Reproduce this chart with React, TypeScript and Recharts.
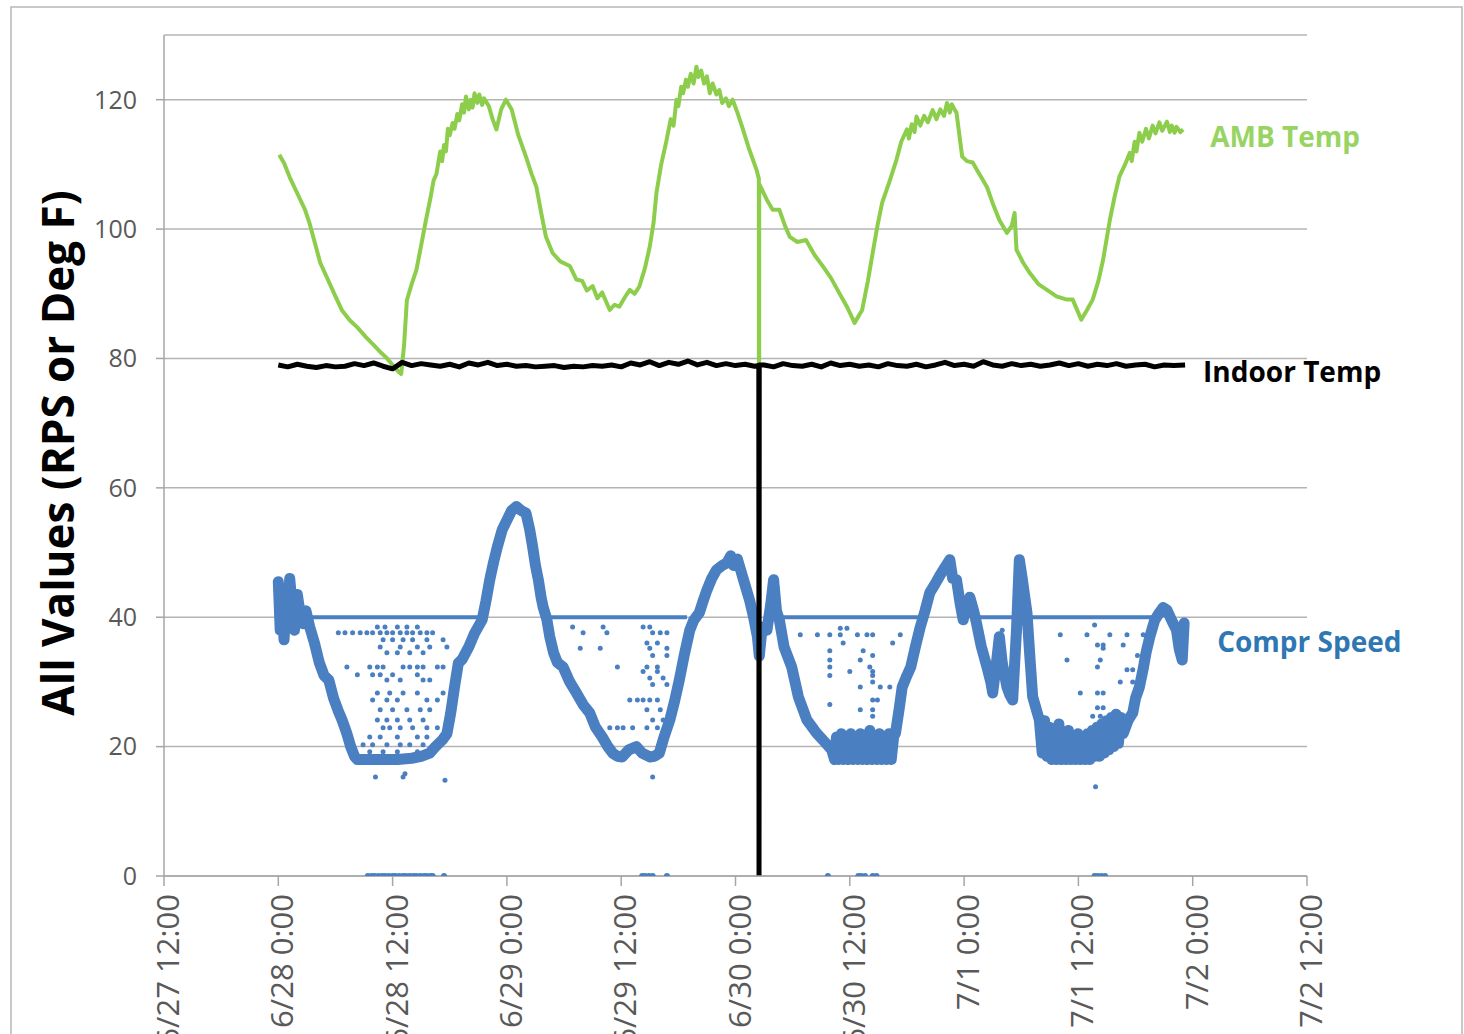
import React from 'react';
import { ComposedChart, Line, Scatter, XAxis, YAxis, CartesianGrid, LabelList } from 'recharts';

// hours since 6/27 12:00
const X_TICKS = [0, 12, 24, 36, 48, 60, 72, 84, 96, 108, 120];
const X_LABELS = ['6/27 12:00', '6/28 0:00', '6/28 12:00', '6/29 0:00', '6/29 12:00', '6/30 0:00', '6/30 12:00', '7/1 0:00', '7/1 12:00', '7/2 0:00', '7/2 12:00'];
const Y_TICKS = [0, 20, 40, 60, 80, 100, 120];

const AMB_TEMP: [number, number][] = [
  [12.1, 111.5], [12.6, 110.2], [13.2, 108.0], [14.0, 105.5], [14.8, 103.0], [15.3, 100.8], [16.0, 97.0], [16.4, 94.8],
  [17.2, 92.2], [18.0, 89.6], [18.7, 87.4], [19.5, 85.9], [20.3, 84.8], [21.2, 83.3], [22.0, 82.1], [22.7, 81.0],
  [23.3, 80.2], [24.0, 79.0], [24.6, 78.0], [24.9, 77.6], [25.2, 82.0], [25.5, 89.0], [26.0, 91.5], [26.5, 93.7],
  [27.0, 97.5], [27.5, 101.4], [28.0, 105.0], [28.3, 107.5], [28.6, 108.5], [29.0, 112.0], [29.2, 110.5], [29.4, 113.0],
  [29.6, 112.0], [29.8, 115.5], [30.0, 114.5], [30.3, 116.4], [30.5, 115.5], [30.8, 117.8], [31.0, 116.8], [31.3, 119.3],
  [31.5, 118.0], [31.7, 120.5], [32.0, 118.5], [32.2, 120.0], [32.4, 118.8], [32.6, 121.0], [32.9, 119.5], [33.1, 120.8],
  [33.4, 119.2], [33.6, 120.2], [34.1, 119.0], [34.5, 117.0], [34.9, 115.4], [35.4, 118.5], [35.9, 120.0], [36.5, 118.5],
  [37.2, 114.5], [38.0, 111.2], [38.6, 108.5], [39.1, 106.5], [39.6, 102.5], [40.1, 98.8], [40.8, 96.3], [41.6, 95.0],
  [42.6, 94.3], [43.3, 92.2], [43.9, 92.0], [44.4, 90.5], [45.0, 91.2], [45.5, 89.3], [46.0, 90.2], [46.8, 87.5],
  [47.3, 88.3], [47.8, 88.0], [48.4, 89.5], [48.9, 90.6], [49.4, 90.0], [49.9, 91.1], [50.5, 94.0], [51.0, 97.3],
  [51.4, 101.0], [51.7, 105.6], [52.2, 110.0], [52.7, 113.3], [53.2, 117.0], [53.5, 116.0], [53.8, 120.0], [54.0, 119.0],
  [54.3, 122.0], [54.5, 121.0], [54.8, 123.1], [55.0, 122.0], [55.3, 124.0], [55.6, 122.5], [55.9, 125.1], [56.1, 123.5],
  [56.4, 124.5], [56.7, 122.5], [57.0, 123.6], [57.3, 121.0], [57.6, 122.5], [58.0, 120.8], [58.3, 121.5], [58.6, 119.5],
  [59.0, 120.2], [59.3, 119.0], [59.7, 120.0], [60.2, 118.0], [60.7, 115.8], [61.4, 112.5], [62.2, 109.2], [62.45, 107.8],
  [62.47, 0], [62.49, 107.0], [63.3, 104.5], [63.9, 103.0], [64.6, 103.0], [65.2, 100.5], [65.7, 98.8], [66.5, 98.0],
  [67.4, 98.3], [68.3, 96.0], [69.2, 94.2], [70.0, 92.5], [70.9, 90.1], [71.7, 88.0], [72.5, 85.5], [73.3, 87.5],
  [73.9, 92.0], [74.4, 96.3], [74.9, 100.5], [75.4, 104.1], [76.2, 107.5], [76.9, 110.7], [77.4, 113.5], [78.0, 115.4],
  [78.2, 114.0], [78.5, 116.2], [78.8, 115.0], [79.0, 117.4], [79.4, 116.0], [79.8, 117.5], [80.2, 116.5], [80.7, 118.4],
  [81.1, 117.0], [81.5, 118.5], [81.9, 117.5], [82.2, 119.5], [82.5, 118.0], [82.7, 119.3], [83.0, 118.5], [83.2, 118.0],
  [83.8, 111.2], [84.3, 110.5], [84.9, 110.3], [85.6, 108.5], [86.4, 106.5], [87.0, 104.0], [87.7, 101.4], [88.5, 99.4],
  [89.0, 100.5], [89.3, 102.5], [89.5, 96.8], [90.2, 94.8], [90.9, 93.2], [91.8, 91.5], [92.7, 90.6], [93.7, 89.6],
  [94.8, 89.1], [95.4, 89.1], [96.3, 86.0], [96.9, 87.5], [97.5, 89.1], [98.1, 92.0], [98.6, 95.3], [99.3, 101.4],
  [99.8, 105.0], [100.3, 108.1], [100.9, 110.0], [101.4, 111.8], [101.6, 110.5], [101.9, 113.5], [102.1, 112.0], [102.4, 114.9],
  [102.7, 113.5], [103.1, 115.5], [103.4, 114.0], [103.8, 116.0], [104.1, 114.8], [104.5, 116.5], [104.8, 115.2], [105.3, 116.6],
  [105.6, 115.0], [105.8, 116.0], [106.1, 114.9], [106.3, 115.8], [106.7, 115.0], [107.0, 115.4],
];

const INDOOR_TEMP: [number, number][] = [
  [12, 79.0], [13, 78.7], [14, 79.1], [15, 78.8], [16, 78.6], [17, 78.9], [18, 78.7], [19, 78.8], [20, 79.2], [21, 78.9],
  [22, 79.3], [23, 78.8], [24, 78.4], [25, 79.4], [26, 78.9], [27, 79.2], [28, 79.0], [29, 78.8], [30, 79.1], [31, 78.7],
  [32, 79.3], [33, 79.0], [34, 79.4], [35, 78.9], [36, 79.1], [37, 78.8], [38, 78.9], [39, 78.7], [40, 78.8], [41, 78.9],
  [42, 78.6], [43, 78.8], [44, 78.7], [45, 78.9], [46, 78.8], [47, 79.0], [48, 78.7], [49, 79.3], [50, 79.0], [51, 79.5],
  [52, 78.9], [53, 79.4], [54, 79.1], [55, 79.6], [56, 79.0], [57, 79.4], [58, 78.9], [59, 79.2], [60, 78.9], [61, 79.1],
  [62, 78.8], [62.45, 78.9], [62.47, 0], [62.49, 79.0], [63, 79.0], [64, 78.7], [65, 79.2], [66, 78.9], [67, 78.8], [68, 79.1],
  [69, 78.7], [70, 79.3], [71, 78.9], [72, 79.1], [73, 78.8], [74, 79.0], [75, 78.7], [76, 79.2], [77, 78.9], [78, 78.8],
  [79, 79.1], [80, 78.7], [81, 79.0], [82, 79.4], [83, 78.9], [84, 79.1], [85, 78.8], [86, 79.5], [87, 79.0], [88, 78.8],
  [89, 79.2], [90, 78.9], [91, 79.1], [92, 78.8], [93, 79.0], [94, 79.3], [95, 78.9], [96, 79.2], [97, 78.8], [98, 79.1],
  [99, 78.9], [100, 79.2], [101, 78.8], [102, 79.0], [103, 79.1], [104, 78.7], [105, 79.0], [106, 78.9], [107.2, 79.0],
];

// main (dense) compressor speed trace
const COMPR_SPEED: [number, number][] = [
  [12.0, 45.5], [12.2, 38.0], [12.4, 44.5], [12.6, 36.5], [12.8, 42.0], [13.0, 39.5], [13.2, 46.0], [13.5, 41.0],
  [13.7, 38.0], [14.0, 43.5], [14.3, 40.5], [14.6, 39.0], [14.9, 41.0], [15.3, 38.5], [15.8, 36.0], [16.3, 33.0],
  [16.8, 31.0], [17.3, 30.3], [17.8, 27.5], [18.3, 25.5], [18.7, 24.1], [19.2, 22.0], [19.6, 20.0], [20.0, 18.5],
  [20.3, 18.0], [21.5, 18.0], [23.0, 18.0], [24.5, 18.0], [26.0, 18.2], [27.0, 18.5], [27.9, 19.0], [28.5, 20.0],
  [29.2, 21.0], [29.7, 22.0], [30.1, 25.2], [30.5, 29.2], [30.9, 32.9], [31.3, 33.5], [32.0, 35.4], [32.6, 37.5],
  [33.4, 39.6], [33.8, 42.5], [34.2, 45.8], [34.6, 48.5], [35.0, 50.9], [35.5, 53.5], [36.0, 55.0], [36.5, 56.5],
  [37.0, 57.1], [37.5, 56.5], [38.0, 56.1], [38.4, 53.5], [38.7, 50.9], [39.0, 48.0], [39.3, 45.8], [39.6, 43.0],
  [39.8, 41.6], [40.2, 39.6], [40.5, 37.0], [40.9, 34.5], [41.3, 33.0], [41.9, 32.3], [42.6, 30.0], [43.3, 28.3],
  [44.0, 26.5], [44.7, 25.2], [45.3, 23.0], [46.0, 21.5], [46.6, 20.0], [47.1, 19.0], [47.6, 18.5], [48.1, 18.4],
  [48.8, 19.5], [49.6, 20.0], [50.2, 19.0], [51.0, 18.4], [51.5, 18.5], [52.0, 19.0], [52.5, 21.5], [53.1, 24.1],
  [53.6, 27.0], [54.1, 30.3], [54.6, 34.0], [55.2, 38.0], [55.6, 39.5], [56.2, 40.7], [56.6, 42.5], [57.0, 44.2],
  [57.5, 46.0], [58.0, 47.3], [58.6, 48.0], [59.1, 48.4], [59.5, 49.5], [59.8, 48.0], [60.2, 49.0], [60.5, 47.5],
  [61.0, 45.0], [61.5, 42.5], [61.9, 40.0], [62.3, 37.0], [62.5, 34.0], [62.8, 38.5], [63.3, 38.0], [63.7, 42.0],
  [64.0, 45.8], [64.3, 41.0], [64.6, 39.6], [65.1, 35.4], [65.9, 32.3], [66.6, 27.7], [67.5, 24.1], [68.5, 22.1],
  [69.5, 20.5], [70.1, 19.5], [70.4, 18.0], [70.6, 21.5], [70.85, 18.0], [71.1, 22.0], [71.35, 18.0], [71.6, 21.0],
  [71.85, 18.0], [72.1, 22.0], [72.35, 18.0], [72.6, 21.5], [72.85, 18.0], [73.1, 22.0], [73.35, 18.0], [73.6, 21.0],
  [73.85, 18.0], [74.1, 22.5], [74.35, 18.0], [74.6, 21.5], [74.85, 18.0], [75.1, 22.0], [75.35, 18.0], [75.6, 21.5],
  [75.85, 18.0], [76.1, 22.0], [76.35, 18.0], [76.6, 21.5], [76.8, 22.1], [77.2, 26.0], [77.5, 29.2], [78.0, 31.0],
  [78.4, 32.3], [78.9, 35.5], [79.4, 38.5], [79.9, 41.0], [80.4, 43.8], [80.9, 45.0], [81.4, 46.3], [81.9, 47.5],
  [82.5, 48.9], [82.8, 46.0], [83.2, 45.8], [83.6, 42.0], [83.9, 39.6], [84.3, 42.0], [84.6, 43.1], [85.0, 41.0],
  [85.3, 39.1], [85.8, 35.5], [86.4, 32.3], [86.8, 30.0], [87.0, 28.3], [87.4, 33.0], [87.7, 37.0], [88.0, 33.0],
  [88.5, 29.2], [88.8, 28.0], [89.1, 27.2], [89.5, 38.0], [89.8, 48.9], [90.1, 46.0], [90.6, 40.7], [90.9, 34.0],
  [91.2, 27.7], [91.9, 24.1], [92.2, 19.0], [92.45, 24.0], [92.7, 18.5], [92.95, 23.0], [93.2, 18.0], [93.45, 22.5],
  [93.7, 18.0], [93.95, 23.5], [94.2, 18.0], [94.45, 22.0], [94.7, 18.0], [94.95, 22.5], [95.2, 18.0], [95.45, 21.5],
  [95.7, 18.0], [95.95, 22.0], [96.2, 18.0], [96.45, 21.5], [96.7, 18.0], [96.95, 22.0], [97.2, 18.0], [97.45, 22.5],
  [97.7, 18.5], [97.95, 23.0], [98.2, 18.5], [98.45, 23.5], [98.7, 19.0], [98.95, 24.0], [99.2, 19.5], [99.45, 24.5],
  [99.7, 20.0], [99.95, 25.0], [100.2, 20.5], [100.45, 24.5], [100.7, 22.0], [101.2, 24.0], [101.7, 25.2], [102.0, 27.5],
  [102.4, 29.2], [102.8, 32.0], [103.1, 34.5], [103.5, 37.0], [104.0, 39.5], [104.5, 40.7], [104.9, 41.5], [105.3, 41.1],
  [105.8, 39.5], [106.3, 38.0], [106.6, 35.0], [106.9, 33.4], [107.1, 39.1],
];

// compressor held at 40 RPS (segments; null breaks the run)
const COMPR_AT_40: [number, number | null][] = [
  [15.0, 40], [33.6, 40], [33.61, null], [40.2, 40], [54.9, 40], [54.91, null],
  [65.0, 40], [80.0, 40], [80.01, null], [84.9, 40], [103.8, 40],
];

const COMPR_SCATTER: [number, number][] = [
  [18.3, 37.6], [19.0, 37.6], [19.8, 37.6], [20.6, 37.6], [21.3, 37.6], [21.9, 37.6], [22.7, 37.6], [23.4, 37.6],
  [24.0, 37.6], [24.8, 37.6], [25.5, 37.6], [26.1, 37.6], [26.9, 37.6], [27.6, 37.6], [28.2, 37.6],
  [22.4, 38.5], [23.2, 38.5], [24.5, 38.5], [25.5, 38.5], [26.6, 38.5],
  [23.0, 36.5], [24.0, 36.5], [25.1, 36.5], [26.1, 36.5], [27.6, 36.5], [29.3, 36.5],
  [22.7, 35.4], [24.8, 35.4], [26.6, 35.4], [27.9, 35.4], [29.7, 35.4],
  [23.4, 34.5], [24.5, 34.5], [25.8, 34.5], [27.2, 34.5],
  [19.2, 32.3], [21.6, 32.3], [22.4, 32.3], [23.0, 32.3], [25.1, 32.3], [25.8, 32.3], [26.6, 32.3], [27.2, 32.3], [28.7, 32.3], [29.3, 32.3],
  [20.3, 31.1], [21.9, 31.1], [22.7, 31.1], [24.0, 31.1], [26.6, 31.1],
  [23.4, 30.3], [24.8, 30.3], [27.2, 30.3], [27.9, 30.3],
  [22.4, 28.3], [23.7, 28.3], [25.1, 28.3], [26.6, 28.3], [29.3, 28.3],
  [21.9, 27.2], [23.4, 27.2], [24.5, 27.2], [27.6, 27.2], [28.7, 27.2],
  [22.7, 25.7], [24.0, 25.7], [25.5, 25.7], [26.9, 25.7], [27.9, 25.7],
  [22.4, 24.1], [23.4, 24.1], [24.5, 24.1], [25.8, 24.1], [27.2, 24.1],
  [23.0, 22.9], [23.7, 22.9], [24.8, 22.9], [26.1, 22.9], [27.6, 22.9], [28.7, 22.9],
  [21.6, 21.5], [22.7, 21.5], [24.5, 21.5], [26.6, 21.5], [27.6, 21.5],
  [20.9, 20.3], [21.9, 20.3], [23.4, 20.3], [24.8, 20.3], [25.8, 20.3], [27.2, 20.3], [28.7, 20.3],
  [21.6, 19.2], [23.0, 19.2], [24.5, 19.2], [26.6, 19.2], [27.9, 19.2],
  [22.2, 15.3], [25.1, 15.3], [25.3, 15.8], [29.5, 14.8],
  [42.9, 38.5], [46.1, 38.5], [50.3, 38.5], [51.0, 38.5],
  [44.0, 37.6], [46.5, 37.6], [51.3, 37.6], [52.1, 37.6], [52.8, 37.6],
  [50.7, 36.0], [51.8, 36.0],
  [43.7, 35.2], [45.8, 35.2], [51.0, 35.2], [52.8, 35.2],
  [51.3, 34.1], [52.8, 34.1],
  [47.6, 32.3], [50.7, 32.3], [51.8, 32.3],
  [50.3, 31.6], [51.8, 31.6], [51.0, 30.6], [52.4, 30.6], [51.3, 29.6], [52.8, 29.6],
  [48.9, 27.2], [49.7, 27.2], [50.3, 27.2], [51.0, 27.2], [51.8, 27.2],
  [50.7, 25.7], [52.1, 25.7], [51.3, 24.1], [52.4, 24.1],
  [46.8, 22.9], [47.6, 22.9], [48.2, 22.9], [49.2, 22.9], [50.7, 22.9], [51.8, 22.9],
  [51.3, 15.3],
  [66.8, 37.3], [68.6, 37.3], [69.9, 37.3], [71.0, 37.3], [72.8, 37.3], [73.8, 37.3], [74.4, 37.3], [77.3, 37.3],
  [71.0, 38.3], [71.7, 38.3], [71.3, 36.0], [76.5, 36.0], [69.9, 34.8], [73.4, 34.8], [74.4, 34.1],
  [69.9, 33.4], [73.1, 33.4], [69.9, 32.3], [74.1, 32.3], [72.0, 31.6], [74.4, 31.6], [69.9, 31.0], [74.4, 31.0],
  [74.4, 30.0], [73.1, 29.2], [75.2, 29.2], [76.2, 29.2], [74.4, 27.2], [74.9, 27.2], [69.9, 26.5],
  [73.1, 25.7], [74.4, 25.7], [74.4, 24.7],
  [88.0, 38.0], [88.0, 36.5], [88.0, 34.9],
  [89.3, 38.0], [89.3, 36.5], [89.3, 34.9], [89.3, 33.4], [89.3, 31.9], [89.3, 30.3],
  [94.1, 37.3], [96.9, 37.3], [99.3, 37.3], [101.1, 37.3], [102.8, 37.3], [97.7, 38.8],
  [98.0, 35.7], [98.6, 35.7], [100.7, 35.7], [98.6, 35.2], [102.2, 34.1], [94.8, 33.4], [98.3, 33.4],
  [98.0, 32.3], [101.1, 31.9], [101.7, 31.9], [100.4, 30.0], [101.7, 30.0],
  [96.2, 28.3], [98.0, 28.3], [98.6, 28.3], [101.7, 27.2], [98.0, 26.0], [98.6, 26.0],
  [97.5, 24.7], [98.3, 24.7], [97.8, 13.8],
];

const COMPR_ZERO: number[] = [
  21.4, 21.8, 22.1, 22.5, 22.9, 23.2, 23.6, 24.0, 24.3, 24.7, 25.1, 25.4, 25.8, 26.2, 26.5, 26.9, 27.3, 27.6, 28.0, 28.2, 29.4,
  50.2, 50.5, 50.9, 51.3, 52.8, 69.7, 72.9, 73.2, 73.6, 74.4, 74.8, 97.7, 98.0, 98.4, 98.8,
];

const toPts = (arr: [number, number | null][]) => arr.map(([t, v]) => ({ t, v }));
const ambData = toPts(AMB_TEMP);
const indoorData = toPts(INDOOR_TEMP);
const comprData = toPts(COMPR_SPEED);
const compr40Data = toPts(COMPR_AT_40);
const scatterData = toPts(COMPR_SCATTER);
const zeroData = COMPR_ZERO.map((t) => ({ t, v: 0 }));

const GREEN = '#8cce4c';
const GREEN_LABEL = '#98d462';
const BLACK = '#000000';
const BLUE = '#4a7fc1';
const BLUE_LABEL = '#2f77b3';
const GRID = '#b4b4b4';
const TICK_TEXT = '#595959';
const FONT = '"Open Sans", "DejaVu Sans", sans-serif';

const endLabel = (n: number, text: string, color: string, dx: number, dy: number) => (props: any) => {
  if (props.index !== n - 1) return null;
  return (
    <text
      x={Number(props.x) + dx}
      y={Number(props.y) + dy}
      fill={color}
      fontSize={28}
      fontWeight={700}
      fontFamily={FONT}
      dominantBaseline="central"
      textAnchor="start"
    >
      {text}
    </text>
  );
};

const XTick = (props: any) => {
  const { x, y, payload } = props;
  const idx = X_TICKS.indexOf(payload.value);
  const label = idx >= 0 ? X_LABELS[idx] : '';
  return (
    <text
      x={x}
      y={y}
      dy={3}
      transform={`rotate(-90 ${x} ${y})`}
      textAnchor="end"
      dominantBaseline="central"
      fill={TICK_TEXT}
      fontSize={31}
      fontFamily={FONT}
    >
      {label}
    </text>
  );
};

const dot = (r: number, color: string) => (p: any) => <circle cx={p.cx} cy={p.cy} r={r} fill={color} />;

export default function App() {
  return (
    <div style={{ position: 'absolute', left: 0, top: 0, width: 1464, height: 1034, background: '#ffffff', overflow: 'hidden' }}>
      <ComposedChart width={1464} height={1034} margin={{ top: 35, right: 157, bottom: 0, left: 0 }}>
        <CartesianGrid horizontal vertical={false} stroke={GRID} strokeWidth={1.5} />
        <XAxis
          type="number"
          dataKey="t"
          domain={[0, 120]}
          ticks={X_TICKS}
          interval={0}
          height={158}
          tickSize={10}
          tickMargin={8}
          axisLine={{ stroke: '#a6a6a6', strokeWidth: 1.5 }}
          tickLine={{ stroke: '#a6a6a6', strokeWidth: 1.5 }}
          tick={<XTick />}
          allowDataOverflow
        />
        <YAxis
          type="number"
          domain={[0, 130]}
          ticks={Y_TICKS}
          interval={0}
          width={164}
          tickSize={8}
          tickMargin={19}
          axisLine={{ stroke: '#a6a6a6', strokeWidth: 1.5 }}
          tickLine={{ stroke: '#a6a6a6', strokeWidth: 1.5 }}
          tick={{ fill: TICK_TEXT, fontSize: 25, fontFamily: FONT }}
          allowDataOverflow
        />
        <Scatter data={scatterData} dataKey="v" fill={BLUE} shape={dot(2.5, BLUE)} isAnimationActive={false} />
        <Scatter data={zeroData} dataKey="v" fill={BLUE} shape={dot(3, BLUE)} isAnimationActive={false} />
        <Line data={compr40Data} dataKey="v" stroke={BLUE} strokeWidth={4} dot={false} activeDot={false} isAnimationActive={false} />
        <Line
          data={comprData}
          dataKey="v"
          stroke={BLUE}
          strokeWidth={11}
          strokeLinejoin="round"
          strokeLinecap="round"
          dot={false}
          activeDot={false}
          isAnimationActive={false}
        >
          <LabelList dataKey="v" content={endLabel(comprData.length, 'Compr Speed', BLUE_LABEL, 33, 18)} />
        </Line>
        <Line
          data={ambData}
          dataKey="v"
          stroke={GREEN}
          strokeWidth={4}
          strokeLinejoin="round"
          dot={false}
          activeDot={false}
          isAnimationActive={false}
        >
          <LabelList dataKey="v" content={endLabel(ambData.length, 'AMB Temp', GREEN_LABEL, 27, 7)} />
        </Line>
        <Line
          data={indoorData}
          dataKey="v"
          stroke={BLACK}
          strokeWidth={5}
          strokeLinejoin="round"
          dot={false}
          activeDot={false}
          isAnimationActive={false}
        >
          <LabelList dataKey="v" content={endLabel(indoorData.length, 'Indoor Temp', BLACK, 18, 6)} />
        </Line>
      </ComposedChart>
      <svg width={1464} height={1034} style={{ position: 'absolute', left: 0, top: 0, pointerEvents: 'none' }}>
        <rect x={11} y={7} width={1451} height={1100} fill="none" stroke="#b8b8b8" strokeWidth={1.5} />
        <text
          x={57}
          y={453}
          transform="rotate(-90 57 453)"
          textAnchor="middle"
          dominantBaseline="central"
          fontSize={44}
          fontWeight={700}
          fontFamily={FONT}
          fill="#000000"
        >
          All Values (RPS or Deg F)
        </text>
      </svg>
    </div>
  );
}
